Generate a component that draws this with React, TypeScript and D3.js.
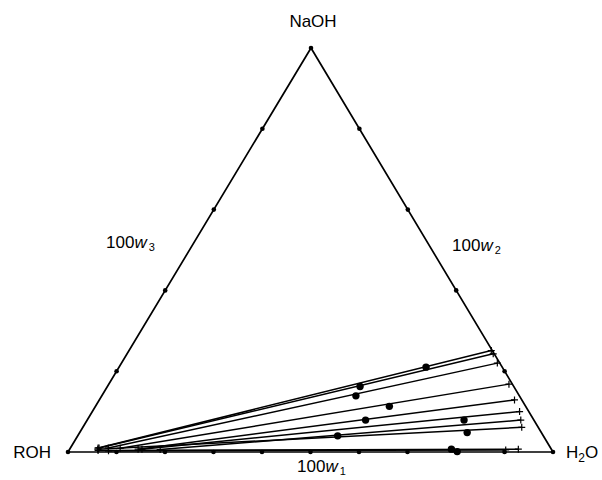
import React from 'react'
import * as d3 from 'd3'

// mass percent of water and NaOH, the rest is ROH
const roWater = [5.7, 5.9, 7.8, 10.3, 14.1, 14.9, 18.7, 5.8, 6.0, 8.2]
const roNaOH = [1.0, 1.0, 1.0, 0.9, 0.7, 0.7, 0.6, 0.7, 0.4, 0.3]
const aqWater = [74.7, 75.5, 77.5, 82.5, 85.6, 88.1, 89.4, 90.5, 92.5, 90.0]
const aqNaOH = [25.1, 24.3, 22.0, 16.8, 12.9, 10.0, 7.9, 6.1, 0.7, 0.5]

const feedWater = [63.3, 52.1, 52.4, 60.6, 57.4, 77.7, 53.6, 79.9, 78.7, 80.2]
const feedNaOH = [21.0, 16.2, 13.9, 11.3, 7.9, 7.9, 4.0, 4.8, 0.7, 0.1]

const bottomTicks = [10, 20, 30, 40, 50, 60, 70, 80, 90]
const sideTicks = [20, 40, 60, 80]

const W = 602
const H = 480
const roh = { x: 68, y: 452 }
const h2o = { x: 553, y: 452 }
const naoh = { x: 311, y: 48 }

const xw = d3.scaleLinear().domain([0, 100]).range([0, h2o.x - roh.x])
const xn = d3.scaleLinear().domain([0, 100]).range([0, naoh.x - roh.x])
const yn = d3.scaleLinear().domain([0, 100]).range([roh.y, naoh.y])

const proj = (water: number, na: number): [number, number] => [roh.x + xw(water) + xn(na), yn(na)]

const font = 'Arial, "Liberation Sans", Helvetica, sans-serif'

function Plus({ p }: { p: [number, number] }) {
    const s = 3.5
    return <path d={`M${p[0] - s},${p[1]}H${p[0] + s}M${p[0]},${p[1] - s}V${p[1] + s}`} stroke="#000" strokeWidth={1.2} />
}

export default function App() {
    const line = d3.line()
    const tri = line([[roh.x, roh.y], [h2o.x, h2o.y], [naoh.x, naoh.y]]) + 'Z'

    const ticks: [number, number][] = [
        ...bottomTicks.map(t => proj(t, 0)),
        ...sideTicks.map(t => proj(0, t)),
        ...sideTicks.map(t => proj(100 - t, t)),
        [roh.x, roh.y], [h2o.x, h2o.y], [naoh.x, naoh.y]
    ]

    return (
        <svg width={W} height={H} style={{ position: 'absolute', left: 0, top: 0, background: '#fff' }} fontFamily={font}>
            <path d={tri} fill="none" stroke="#000" strokeWidth={1.7} strokeLinejoin="miter" />
            {ticks.map((p, i) => <circle key={'t' + i} cx={p[0]} cy={p[1]} r={2.3} fill="#000" />)}

            {roWater.map((_, i) => {
                const a = proj(roWater[i], roNaOH[i])
                const b = proj(aqWater[i], aqNaOH[i])
                return (
                    <g key={'tie' + i}>
                        <path d={line([a, b]) || ''} stroke="#000" strokeWidth={1.5} fill="none" />
                        <Plus p={a} />
                        <Plus p={b} />
                    </g>
                )
            })}

            {feedWater.map((w, i) => {
                const p = proj(w, feedNaOH[i])
                return <circle key={'f' + i} cx={p[0]} cy={p[1]} r={3.7} fill="#000" />
            })}

            <text x={naoh.x + 2} y={27} textAnchor="middle" fontSize={17}>NaOH</text>
            <text x={51} y={458} textAnchor="end" fontSize={17}>ROH</text>
            <text x={566} y={458} fontSize={17}>H<tspan fontSize={12} dy={4}>2</tspan><tspan dy={-4}>O</tspan></text>

            <text x={106} y={248} fontSize={17}>100<tspan fontStyle="italic">w</tspan><tspan fontSize={11} dx={2} dy={3}>3</tspan></text>
            <text x={452} y={251} fontSize={17}>100<tspan fontStyle="italic">w</tspan><tspan fontSize={11} dx={2} dy={3}>2</tspan></text>
            <text x={297} y={472} fontSize={17}>100<tspan fontStyle="italic">w</tspan><tspan fontSize={11} dx={2} dy={3}>1</tspan></text>
        </svg>
    )
}
